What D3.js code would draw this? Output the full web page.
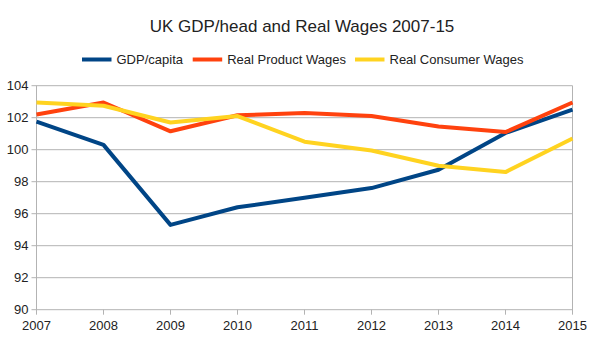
<!DOCTYPE html>
<html><head><meta charset="utf-8">
<script src="https://cdn.jsdelivr.net/npm/d3@7"></script>
<style>body{margin:0;background:#fff}svg{display:block;font-family:"Liberation Sans",Arial,sans-serif}</style>
</head><body><svg id="c" width="605" height="340"></svg>
<script>
const years = [2007,2008,2009,2010,2011,2012,2013,2014,2015];
const gdpCapita = [101.75,100.3,95.3,96.4,97.0,97.6,98.75,101.05,102.5];
const realProductWages = [102.2,102.95,101.15,102.15,102.3,102.1,101.45,101.1,102.95];
const realConsumerWages = [102.95,102.75,101.7,102.1,100.5,99.95,99.0,98.6,100.7];
const yTicks = [90,92,94,96,98,100,102,104];
const seriesNames = ["GDP/capita","Real Product Wages","Real Consumer Wages"];
const colors = ["#004586","#ff420e","#ffd320"];
const seriesData = [gdpCapita, realProductWages, realConsumerWages];

const svg = d3.select("#c");
const L=36.5, R=572.5, T=85.7, B=309.7;
const x = d3.scaleLinear().domain([2007,2015]).range([L,R]);
const y = d3.scaleLinear().domain([90,104]).range([B,T]);

// grid
svg.append("g").selectAll("line").data(yTicks).join("line")
  .attr("x1",L-5).attr("x2",R).attr("y1",d=>y(d)).attr("y2",d=>y(d))
  .attr("stroke","#b3b3b3").attr("stroke-width",1);
svg.append("line").attr("x1",L).attr("x2",L).attr("y1",T).attr("y2",B+5).attr("stroke","#b3b3b3");
svg.append("line").attr("x1",R).attr("x2",R).attr("y1",T).attr("y2",B+5).attr("stroke","#b3b3b3");
svg.append("g").selectAll("line").data(years.slice(1,-1)).join("line")
  .attr("x1",d=>x(d)).attr("x2",d=>x(d)).attr("y1",B).attr("y2",B+5).attr("stroke","#b3b3b3");

// labels
svg.append("g").selectAll("text").data(yTicks).join("text")
  .attr("x",L-8).attr("y",d=>y(d)).attr("dy","0.35em").attr("text-anchor","end")
  .attr("font-size",13).attr("fill","#222").text(d=>d);
svg.append("g").selectAll("text").data(years).join("text")
  .attr("x",d=>x(d)).attr("y",B+16).attr("dy","0.35em").attr("text-anchor","middle")
  .attr("font-size",13).attr("fill","#222").text(d=>d);

// lines
const line = d3.line().x((d,i)=>x(years[i])).y(d=>y(d));
seriesData.forEach((s,k)=>{
  svg.append("path").datum(s).attr("d",line).attr("fill","none")
    .attr("stroke",colors[k]).attr("stroke-width",4).attr("stroke-linejoin","round");
});

// title
svg.append("text").attr("x",302).attr("y",26).attr("dy","0.35em").attr("text-anchor","middle")
  .attr("font-size",17).attr("fill","#222").text("UK GDP/head and Real Wages 2007-15");

// legend
const legX = [82,192.7,355];
seriesNames.forEach((n,k)=>{
  svg.append("line").attr("x1",legX[k]).attr("x2",legX[k]+29.5).attr("y1",59.5).attr("y2",59.5)
    .attr("stroke",colors[k]).attr("stroke-width",4);
  svg.append("text").attr("x",legX[k]+34.5).attr("y",59.5).attr("dy","0.35em")
    .attr("font-size",13).attr("fill","#222").text(n);
});
</script></body></html>
